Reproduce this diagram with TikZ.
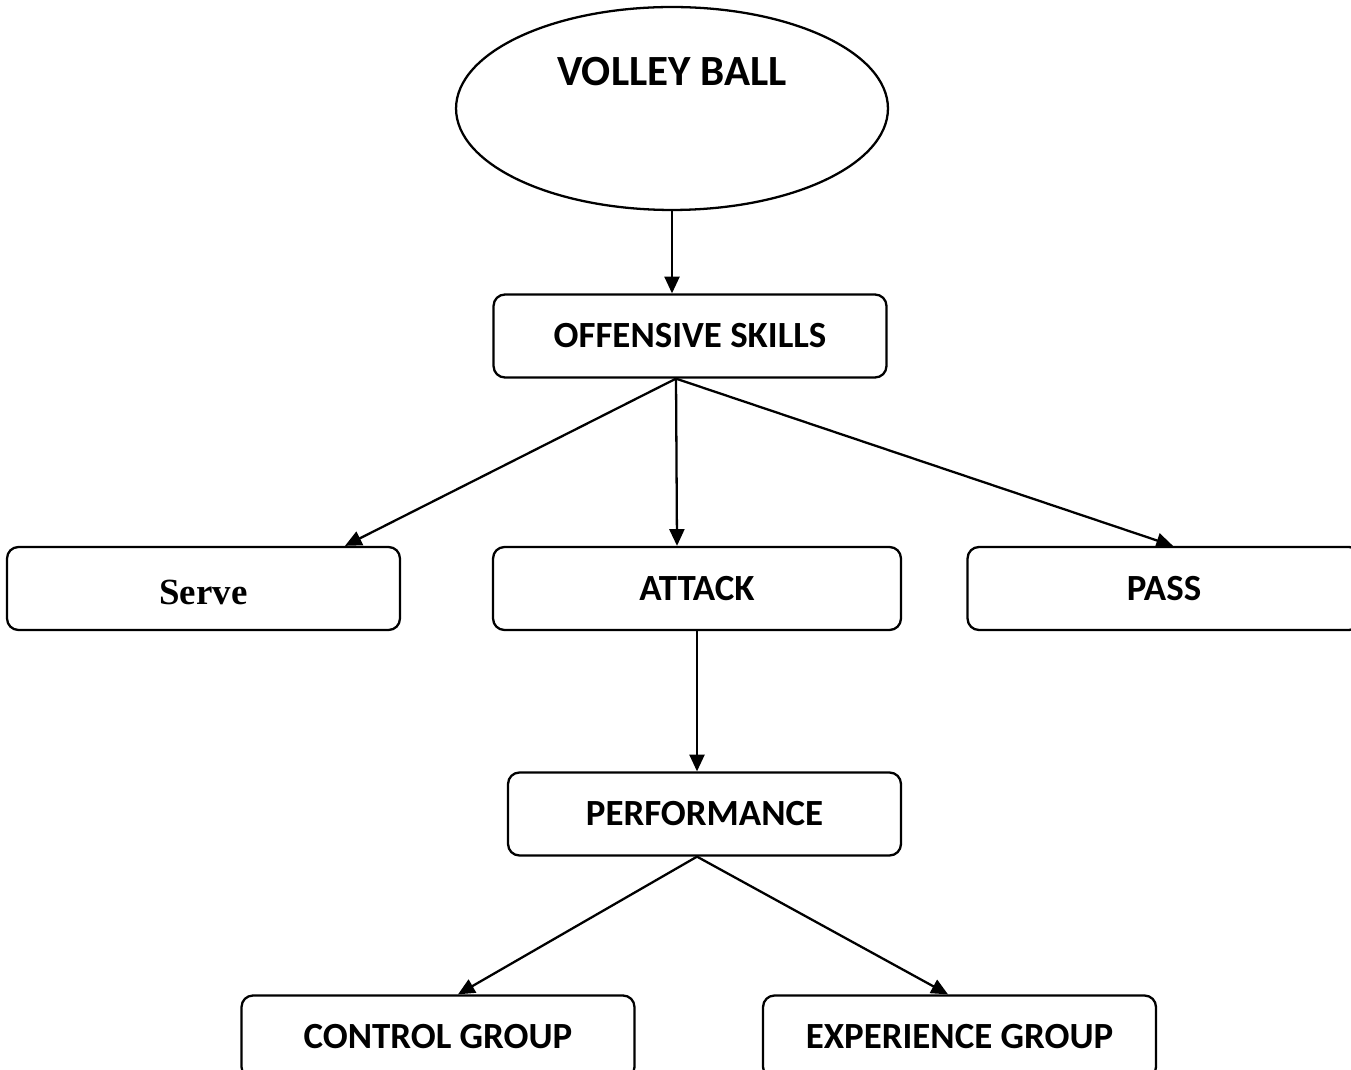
\documentclass[tikz,border=0pt]{standalone}
\usepackage{fontspec}
\setmainfont{Carlito}
\newfontfamily\servefont{Liberation Serif}
\usetikzlibrary{positioning}
\usetikzlibrary{arrows.meta}
\usetikzlibrary{shapes.geometric}
\tikzset{
        skillnode/.style={align=center,inner sep=0pt,line width=1.3pt},
        % Top ellipse
        node_ball/.style={skillnode, ellipse, draw=black, fill=white, minimum width=8.64cm, minimum height=4.06cm},
        % Rounded boxes
        node_box/.style={skillnode, rectangle, rounded corners=6.5pt, draw=black, fill=white, minimum width=7.86cm, minimum height=1.66cm, font=\bfseries\fontsize{21}{25}\selectfont},
        % Connectors
        link/.style={line width=1.3pt, -{Triangle[length=9.5pt,width=8.5pt]}}
}
\begin{document}
\begin{tikzpicture}[x=0.02cm, y=-0.02cm]
            \useasboundingbox (0,0) rectangle (1351,1070);
            \node[node_ball] (ball) at (672,108.5) {};
            \node[font=\bfseries\fontsize{24.5}{29}\selectfont] (balltext) at (672,72) {VOLLEY BALL};

            \node[node_box] (offensive) at (690,336) {OFFENSIVE SKILLS};

            \node[node_box, text height=0.64cm, text depth=0pt] (serve) at (203.5,588.5) {\servefont\fontsize{21}{25}\selectfont Serve};
            \node[node_box, minimum width=8.16cm] (attack) at (697,588.5) {ATTACK};
            \node[node_box] (pass) at (1164,588.5) {PASS};

            \node[node_box] (performance) at (704.5,814) {PERFORMANCE};

            \node[node_box] (control) at (438,1037) {CONTROL GROUP};
            \node[node_box] (experience) at (959.5,1037) {EXPERIENCE GROUP};

            % Fork points
            \coordinate (fork1) at ([xshift=-0.28cm]offensive.south);
            \coordinate (fork2) at ([xshift=-0.15cm]performance.south);

            \draw[link] (ball.south) -- (ball.south |- offensive.north);
            \draw[link] (fork1) -- ([xshift=2.83cm]serve.north);
            \draw[link] (fork1) -- ([xshift=-0.4cm]attack.north);
            \draw[link] (fork1) -- ([xshift=0.18cm]pass.north);
            \draw[link] (attack.south) -- (attack.south |- performance.north);
            \draw[link] (fork2) -- ([xshift=0.4cm]control.north);
            \draw[link] (fork2) -- ([xshift=-0.23cm]experience.north);
        \end{tikzpicture}
\end{document}
